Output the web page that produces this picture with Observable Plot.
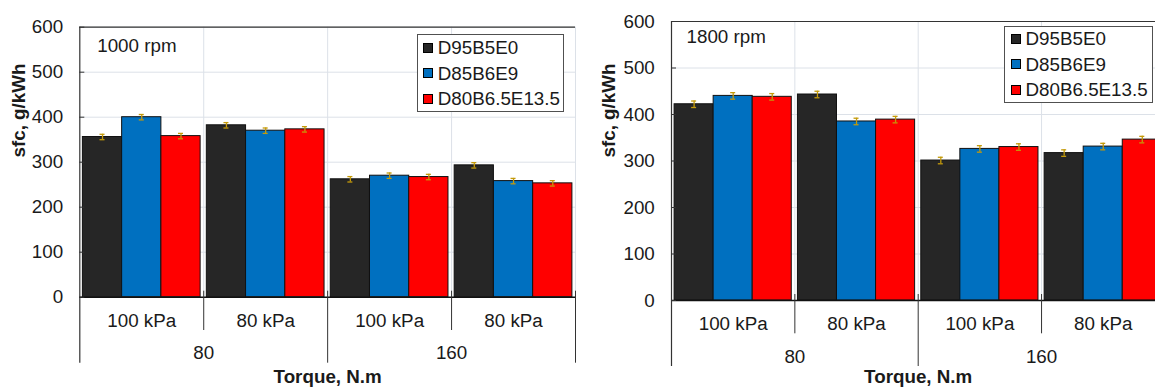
<!DOCTYPE html>
<html>
<head>
<meta charset="utf-8">
<script src="https://cdn.jsdelivr.net/npm/d3@7"></script>
<script src="https://cdn.jsdelivr.net/npm/@observablehq/plot@0.6"></script>
<style>
  html, body { margin: 0; padding: 0; overflow: hidden; background: #fff; width: 1155px; height: 387px; }
  .panel { position: absolute; top: 0; }
  .legend { position: absolute; box-sizing: border-box; border: 1.5px solid #505050; background: #fff;
            font-family: "Liberation Sans", Arial, sans-serif; font-size: 18.8px; color: #1a1a1a; }
  .legend .row { position: absolute; height: 25.4px; line-height: 25.4px; white-space: nowrap; }
  .legend .sw { position: absolute; width: 10px; height: 10px; box-sizing: border-box; border: 1px solid #000; top: 7.7px; }
  .legend .lb { position: absolute; top: 0; }
</style>
</head>
<body>
<div id="root"></div>
<script>
// ---- data ----
const series = ["D95B5E0", "D85B6E9", "D80B6.5E13.5"];
const seriesColors = ["#262626", "#0070c0", "#ff0000"];
const pressures = ["100 kPa", "80 kPa", "100 kPa", "80 kPa"];
const torques = ["80", "160"];
const yTicks = [0, 100, 200, 300, 400, 500, 600];

// 1000 rpm
const sfc1000_D95B5E0 = [356, 382, 262, 293];
const sfc1000_D85B6E9 = [400, 370, 270, 258];
const sfc1000_D80B65E135 = [358, 373, 267, 253];
const err1000_D95B5E0 = [6, 6, 6, 6];
const err1000_D85B6E9 = [6, 6, 6, 6];
const err1000_D80B65E135 = [6, 6, 6, 6];

// 1800 rpm
const sfc1800_D95B5E0 = [422, 443, 301, 317];
const sfc1800_D85B6E9 = [440, 385, 326, 331];
const sfc1800_D80B65E135 = [438, 389, 330, 346];
const err1800_D95B5E0 = [7, 7, 7, 7];
const err1800_D85B6E9 = [7, 7, 7, 7];
const err1800_D80B65E135 = [7, 7, 7, 7];

// ---- build ----
const font = "'Liberation Sans', Arial, sans-serif";
const gridColor = "#dce1e8";
const errColor = "#c49a0a";
const axisColor = "#333";
const fill = 0.95;               // share of a group taken by its bars
const bw = fill / series.length; // bar width in group units
const pad = (1 - fill) / 2;

function rowsFor(valueSets, errSets) {
  const rows = [];
  pressures.forEach((p, i) => {
    series.forEach((s, j) => {
      const x1 = i + pad + j * bw;
      rows.push({s, v: valueSets[j][i], e: errSets[j][i], x1, x2: x1 + bw, xc: x1 + bw / 2});
    });
  });
  return rows;
}

function panel(cfg) {
  const rows = rowsFor(cfg.values, cfg.errors);
  const plot = Plot.plot({
    width: cfg.width,
    height: 387,
    marginLeft: cfg.marginLeft,
    marginRight: cfg.marginRight,
    marginTop: cfg.marginTop,
    marginBottom: cfg.marginBottom,
    style: {fontFamily: font, fontSize: "18.8px", color: "#1a1a1a", background: "transparent", overflow: "visible", maxWidth: "none"},
    x: {type: "linear", domain: [0, pressures.length], axis: null},
    y: {domain: [0, 600]},
    color: {domain: series, range: seriesColors},
    marks: [
      Plot.gridY(yTicks, {stroke: gridColor, strokeOpacity: 1}),
      Plot.ruleX([1, 2, 3, 4], {stroke: gridColor, strokeOpacity: 1}),
      Plot.rectY(rows, {x1: "x1", x2: "x2", y1: 0, y2: "v", fill: "s", stroke: "#111", strokeWidth: 1}),
      Plot.ruleX(rows, {x: "xc", y1: d => d.v - d.e, y2: d => d.v + d.e, stroke: errColor, strokeWidth: 1.3}),
      Plot.ruleY(rows, {y: d => d.v + d.e, x1: "xc", x2: "xc", insetLeft: -2.5, insetRight: -2.5, stroke: errColor, strokeWidth: 1.3}),
      Plot.ruleY(rows, {y: d => d.v - d.e, x1: "xc", x2: "xc", insetLeft: -2.5, insetRight: -2.5, stroke: errColor, strokeWidth: 1.3}),
      Plot.ruleY([600], {stroke: axisColor, strokeWidth: 1.2}),
      Plot.ruleY([0], {stroke: "#111", strokeWidth: 1.6}),
      Plot.ruleX([0], {stroke: axisColor, strokeWidth: 1.2, insetBottom: -66}),
      Plot.ruleX([1, 3], {y1: 0, y2: 0, insetTop: -6, insetBottom: -33.3, stroke: axisColor}),
      Plot.ruleX([2, 4], {y1: 0, y2: 0, insetTop: -6, insetBottom: -66, stroke: axisColor}),
      Plot.ruleY(yTicks, {x1: 0, x2: 0, insetRight: -5, stroke: axisColor}),
      Plot.axisY(yTicks, {tickSize: 0, tickPadding: cfg.tickPadding, label: null, fill: "#1a1a1a"}),
      Plot.text(pressures, {x: (d, i) => i + 0.5, y: 0, dy: cfg.pressDy, text: d => d, fill: "#1a1a1a"}),
      Plot.text(torques, {x: (d, i) => 2 * i + 1, y: 0, dy: cfg.torqueDy, text: d => d, fill: "#1a1a1a"}),
      Plot.text(["Torque, N.m"], {frameAnchor: "bottom", lineAnchor: "middle", dy: cfg.titleDy, text: d => d, fontWeight: "bold", fill: "#1a1a1a"}),
      Plot.text(["sfc, g/kWh"], {frameAnchor: "left", dx: cfg.ylabDx, dy: cfg.ylabDy, rotate: -90, text: d => d, fontWeight: "bold", fill: "#1a1a1a"}),
      Plot.text([cfg.rpm], {frameAnchor: "top-left", lineAnchor: "middle", dx: cfg.rpmDx, dy: cfg.rpmDy, textAnchor: "start", text: d => d, fill: "#1a1a1a"})
    ]
  });
  const div = document.createElement("div");
  div.className = "panel";
  div.style.left = cfg.left + "px";
  div.style.width = cfg.width + "px";
  div.appendChild(plot);
  document.getElementById("root").appendChild(div);

  // legend
  const lg = document.createElement("div");
  lg.className = "legend";
  Object.assign(lg.style, {left: cfg.legend.left + "px", top: cfg.legend.top + "px", width: cfg.legend.width + "px", height: cfg.legend.height + "px"});
  series.forEach((s, j) => {
    const row = document.createElement("div");
    row.className = "row";
    row.style.top = (cfg.legend.firstCenter - 12.7 + j * 25.5 - 1.5) + "px";
    row.style.left = "0px";
    const sw = document.createElement("span");
    sw.className = "sw";
    sw.style.left = cfg.legend.swatchX + "px";
    sw.style.background = seriesColors[j];
    const lb = document.createElement("span");
    lb.className = "lb";
    lb.style.left = cfg.legend.textX + "px";
    lb.textContent = s;
    row.appendChild(sw); row.appendChild(lb);
    lg.appendChild(row);
  });
  document.getElementById("root").appendChild(lg);
}

panel({
  left: 0, width: 580, marginLeft: 79.3, marginRight: 5, marginTop: 26.7, marginBottom: 90.3,
  values: [sfc1000_D95B5E0, sfc1000_D85B6E9, sfc1000_D80B65E135],
  errors: [err1000_D95B5E0, err1000_D85B6E9, err1000_D80B65E135],
  tickPadding: 16.6, pressDy: 23.3, torqueDy: 56, titleDy: 79.3, ylabDx: -61, ylabDy: -4.7,
  rpm: "1000 rpm", rpmDx: 17.4, rpmDy: 18.3,
  legend: {left: 416.7, top: 34.3, width: 147.6, height: 78, firstCenter: 14, swatchX: 5.1, textX: 20.1}
});

panel({
  left: 580, width: 590, marginLeft: 91, marginRight: 5.6, marginTop: 21, marginBottom: 87,
  values: [sfc1800_D95B5E0, sfc1800_D85B6E9, sfc1800_D80B65E135],
  errors: [err1800_D95B5E0, err1800_D85B6E9, err1800_D80B65E135],
  tickPadding: 16.7, pressDy: 23.3, torqueDy: 56.7, titleDy: 76, ylabDx: -63, ylabDy: -3.5,
  rpm: "1800 rpm", rpmDx: 15, rpmDy: 15.7,
  legend: {left: 1004, top: 25.7, width: 149.3, height: 77.6, firstCenter: 13.6, swatchX: 5.5, textX: 20.5}
});
</script>
</body>
</html>
